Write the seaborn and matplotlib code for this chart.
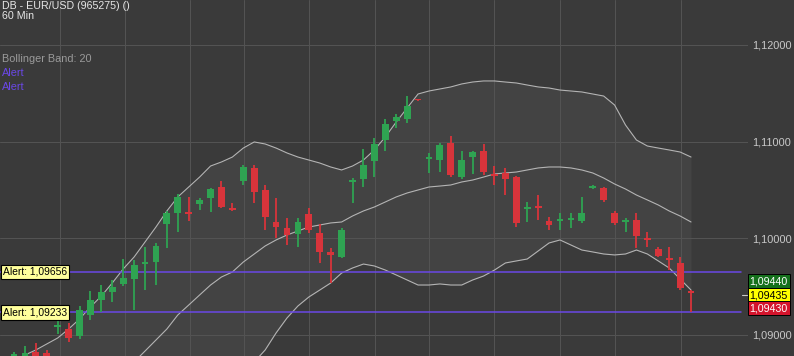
import numpy as np
import pandas as pd
import matplotlib
matplotlib.use("Agg")
import matplotlib.pyplot as plt
import matplotlib.transforms as mtransforms
import seaborn as sns

# ---------------- data ----------------
title = "DB - EUR/USD (965275) ()"
interval = "60 Min"
indicator = "Bollinger Band: 20"
alert_names = ["Alert", "Alert"]
alert_levels = [1.09656, 1.09233]
price_ticks = [1.09, 1.10, 1.11, 1.12]
quote_labels = ["1,09440", "1,09435", "1,09430"]
last_price = 1.09435

opens = [1.08722, 1.08722, 1.08826, 1.08815, 1.09084, 1.09063, 1.08991, 1.09208, 1.09363, 1.09446,
         1.09529, 1.09580, 1.09736, 1.09756, 1.10149, 1.10263, 1.10273, 1.10356, 1.10418, 1.10532,
         1.10315, 1.10594, 1.10728, 1.10501, 1.10170, 1.10108, 1.10046, 1.10253, 1.10056, 1.09860,
         1.09808, 1.10583, 1.10614, 1.10801, 1.11018, 1.11214, 1.11235, 1.11436, 1.10821, 1.10810,
         1.10987, 1.10635, 1.10842, 1.10904, 1.10666, 1.10676, 1.10635, 1.10304, 1.10335, 1.10180,
         1.10180, 1.10190, 1.10180, 1.10521, 1.10521, 1.10263, 1.10170, 1.10190, 1.10004, 1.09891,
         1.09798, 1.09746, 1.09456]
closes = [1.08805, 1.08815, 1.08722, 1.08722, 1.09105, 1.08970, 1.09260, 1.09363, 1.09446, 1.09498,
          1.09591, 1.09725, 1.09756, 1.09922, 1.10263, 1.10428, 1.10253, 1.10397, 1.10511, 1.10325,
          1.10294, 1.10738, 1.10480, 1.10222, 1.10118, 1.10035, 1.10170, 1.10087, 1.09860, 1.09829,
          1.10087, 1.10604, 1.10759, 1.10976, 1.11183, 1.11256, 1.11369, 1.11426, 1.10842, 1.10966,
          1.10656, 1.10810, 1.10894, 1.10687, 1.10645, 1.10614, 1.10160, 1.10325, 1.10315, 1.10139,
          1.10201, 1.10211, 1.10263, 1.10542, 1.10397, 1.10160, 1.10190, 1.10025, 1.09984, 1.09818,
          1.09777, 1.09487, 1.09435]
highs = [1.08826, 1.08888, 1.08919, 1.08846, 1.09198, 1.09125, 1.09301, 1.09456, 1.09518, 1.09570,
         1.09787, 1.09777, 1.09911, 1.09953, 1.10284, 1.10459, 1.10428, 1.10418, 1.10521, 1.10594,
         1.10366, 1.10759, 1.10759, 1.10552, 1.10418, 1.10211, 1.10211, 1.10315, 1.10149, 1.09901,
         1.10108, 1.10625, 1.10925, 1.11038, 1.11235, 1.11287, 1.11473, 1.11442, 1.10883, 1.10987,
         1.11059, 1.10904, 1.10904, 1.10976, 1.10749, 1.10728, 1.10645, 1.10377, 1.10449, 1.10222,
         1.10263, 1.10263, 1.10428, 1.10552, 1.10532, 1.10284, 1.10211, 1.10263, 1.10066, 1.09911,
         1.09911, 1.09808, 1.09467]
lows = [1.08701, 1.08691, 1.08691, 1.08691, 1.09012, 1.08929, 1.08960, 1.09156, 1.09239, 1.09343,
        1.09508, 1.09260, 1.09467, 1.09518, 1.09901, 1.10066, 1.10180, 1.10294, 1.10273, 1.10315,
        1.10284, 1.10552, 1.10366, 1.10087, 1.10004, 1.09932, 1.09911, 1.10056, 1.09746, 1.09539,
        1.09798, 1.10366, 1.10532, 1.10635, 1.10904, 1.11142, 1.11193, 1.11421, 1.10676, 1.10687,
        1.10635, 1.10614, 1.10666, 1.10656, 1.10552, 1.10449, 1.10118, 1.10170, 1.10190, 1.10087,
        1.10087, 1.10108, 1.10160, 1.10511, 1.10377, 1.10139, 1.10066, 1.09901, 1.09911, 1.09808,
        1.09673, 1.09467, 1.09239]

nan = np.nan
bb_upper = [1.08721, 1.08793, 1.08845, 1.08907, 1.08969, 1.09062, 1.09165, 1.09290, 1.09403, 1.09538,
            1.09683, 1.09807, 1.09962, 1.10117, 1.10283, 1.10428, 1.10531, 1.10634, 1.10748, 1.10790,
            1.10841, 1.10934, 1.10997, 1.10976, 1.10934, 1.10883, 1.10841, 1.10810, 1.10779, 1.10738,
            1.10707, 1.10748, 1.10810, 1.10914, 1.11048, 1.11203, 1.11348, 1.11493, 1.11524, 1.11545,
            1.11566, 1.11597, 1.11617, 1.11628, 1.11628, 1.11617, 1.11607, 1.11586, 1.11566, 1.11555,
            1.11534, 1.11524, 1.11514, 1.11493, 1.11472, 1.11379, 1.11172, 1.11017, 1.10955, 1.10934,
            1.10914, 1.10893, 1.10841]
bb_middle = [nan, nan, nan, nan, nan, nan, nan, nan, nan, nan,
             nan, 1.08721, 1.08834, 1.08948, 1.09062, 1.09207, 1.09310, 1.09414, 1.09517, 1.09600,
             1.09652, 1.09755, 1.09838, 1.09921, 1.09983, 1.10034, 1.10076, 1.10117, 1.10138, 1.10159,
             1.10169, 1.10231, 1.10283, 1.10324, 1.10376, 1.10428, 1.10469, 1.10500, 1.10531, 1.10541,
             1.10552, 1.10583, 1.10603, 1.10634, 1.10666, 1.10676, 1.10686, 1.10707, 1.10728, 1.10738,
             1.10738, 1.10728, 1.10707, 1.10676, 1.10624, 1.10562, 1.10510, 1.10448, 1.10397, 1.10345,
             1.10283, 1.10231, 1.10169]
bb_lower = [nan, nan, nan, nan, nan, nan, nan, nan, nan, nan,
            nan, nan, nan, nan, nan, nan, nan, nan, nan, nan,
            nan, nan, 1.08721, 1.08845, 1.09021, 1.09176, 1.09300, 1.09393, 1.09465, 1.09538,
            1.09641, 1.09693, 1.09734, 1.09714, 1.09672, 1.09621, 1.09569, 1.09517, 1.09517, 1.09528,
            1.09517, 1.09517, 1.09569, 1.09610, 1.09672, 1.09745, 1.09766, 1.09786, 1.09869, 1.09952,
            1.09983, 1.09931, 1.09879, 1.09859, 1.09838, 1.09828, 1.09838, 1.09879, 1.09838, 1.09766,
            1.09693, 1.09579, 1.09465]

# session separators (positions in bar units)
session_marks = [4.2, 10.2, 16.1, 21.1, 27.0, 33.1, 38.0, 44.0, 50.0, 55.0, 61.1]

# ---------------- style ----------------
BG = "#3a3a3a"
FILL = "#434343"
GRID = "#535353"
BAND = "#b4b4b4"
GREEN = "#2fa352"
RED = "#d8343b"
ALERT = "#6a48e6"

sns.set_theme(style="dark")
plt.rcParams["font.family"] = ["Liberation Sans", "DejaVu Sans"]

W, H = 794, 356
fig = plt.figure(figsize=(W / 100, H / 100), dpi=100)
fig.patch.set_facecolor(BG)
ax = fig.add_axes([0, 0, 748 / W, 1])
ax.set_facecolor(BG)

n = len(opens)
x = np.arange(n)
o = np.array(opens); c = np.array(closes)
hi = np.array(highs); lo = np.array(lows)

px_per_bar = 10.92
ax.set_xlim(-14 / px_per_bar, (748 - 14) / px_per_bar)
y_top = 1.124655
y_bot = y_top - 356 * 0.00010345
ax.set_ylim(y_bot, y_top)

# grid
ax.set_xticks(session_marks)
ax.set_xticklabels([])
ax.set_yticks(price_ticks)
ax.set_yticklabels([f"{v:.5f}".replace(".", ",") for v in price_ticks])
ax.yaxis.tick_right()
ax.tick_params(axis="x", length=0)
ax.tick_params(axis="y", length=0, pad=3, labelsize=7.9, labelcolor="#c8c8c8")
ax.grid(True, color=GRID, lw=0.75)
ax.set_axisbelow(True)
for s in ax.spines.values():
    s.set_visible(False)

# Bollinger band
df = pd.DataFrame({"bar": x, "upper": bb_upper, "middle": bb_middle, "lower": bb_lower})
low_fill = np.where(np.isnan(df["lower"]), y_bot - 0.001, df["lower"])
ax.fill_between(x, df["upper"], low_fill, color=FILL, lw=0, zorder=0.5)
for col in ["upper", "middle", "lower"]:
    sns.lineplot(data=df, x="bar", y=col, ax=ax, color=BAND, lw=0.8, legend=False, zorder=2)
ax.set_xlabel(""); ax.set_ylabel("")

# candles
cols = np.where(c >= o, GREEN, RED)
ax.vlines(x, lo, hi, colors=cols, lw=1.3, zorder=3)
body = np.maximum(np.abs(c - o), 0.00018)
ax.bar(x, body, bottom=np.minimum(o, c), width=0.62, color=cols, lw=0, zorder=4)

# alerts
trans = mtransforms.blended_transform_factory(ax.transAxes, ax.transData)
for lvl in alert_levels:
    ax.axhline(lvl, xmin=0, xmax=741 / 748, color=ALERT, lw=1.1, zorder=2.5)
    ax.text(0.004, lvl, f"Alert: {lvl:.5f}".replace(".", ","), transform=trans,
            ha="left", va="center", fontsize=7.4, color="black", zorder=6,
            bbox=dict(boxstyle="square,pad=0.2", fc="#ffff9c", ec="black", lw=0.8))

# quote boxes on price axis
quote_styles = [("#15701c", "white", 8.4), ("#ffff00", "black", -1.8), ("#d4142c", "white", -11.0)]
for lab, (fc, tc, dy) in zip(quote_labels, quote_styles):
    ax.annotate(lab, xy=(1.0, last_price), xycoords=trans, xytext=(1.2, dy),
                textcoords="offset points", ha="left", va="center", fontsize=7.7,
                color=tc, annotation_clip=False, zorder=7,
                bbox=dict(boxstyle="square,pad=0.2", fc=fc, ec="black", lw=0.7))
ax.plot([0.992, 0.998], [last_price - 0.0002] * 2, transform=trans, color="#c8c8c8",
        lw=0.8, clip_on=False)

# header texts
fig.text(2 / W, 1 - 6 / H, title, ha="left", va="center", fontsize=7.7, color="#e6e6e6")
fig.text(2 / W, 1 - 16 / H, interval, ha="left", va="center", fontsize=7.7, color="#e6e6e6")
fig.text(2 / W, 1 - 59 / H, indicator, ha="left", va="center", fontsize=7.8, color="#9a9a9a")
fig.text(2 / W, 1 - 73 / H, alert_names[0], ha="left", va="center", fontsize=7.8, color=ALERT)
fig.text(2 / W, 1 - 87 / H, alert_names[1], ha="left", va="center", fontsize=7.8, color=ALERT)

fig.savefig("out.png", dpi=100, facecolor=BG)
